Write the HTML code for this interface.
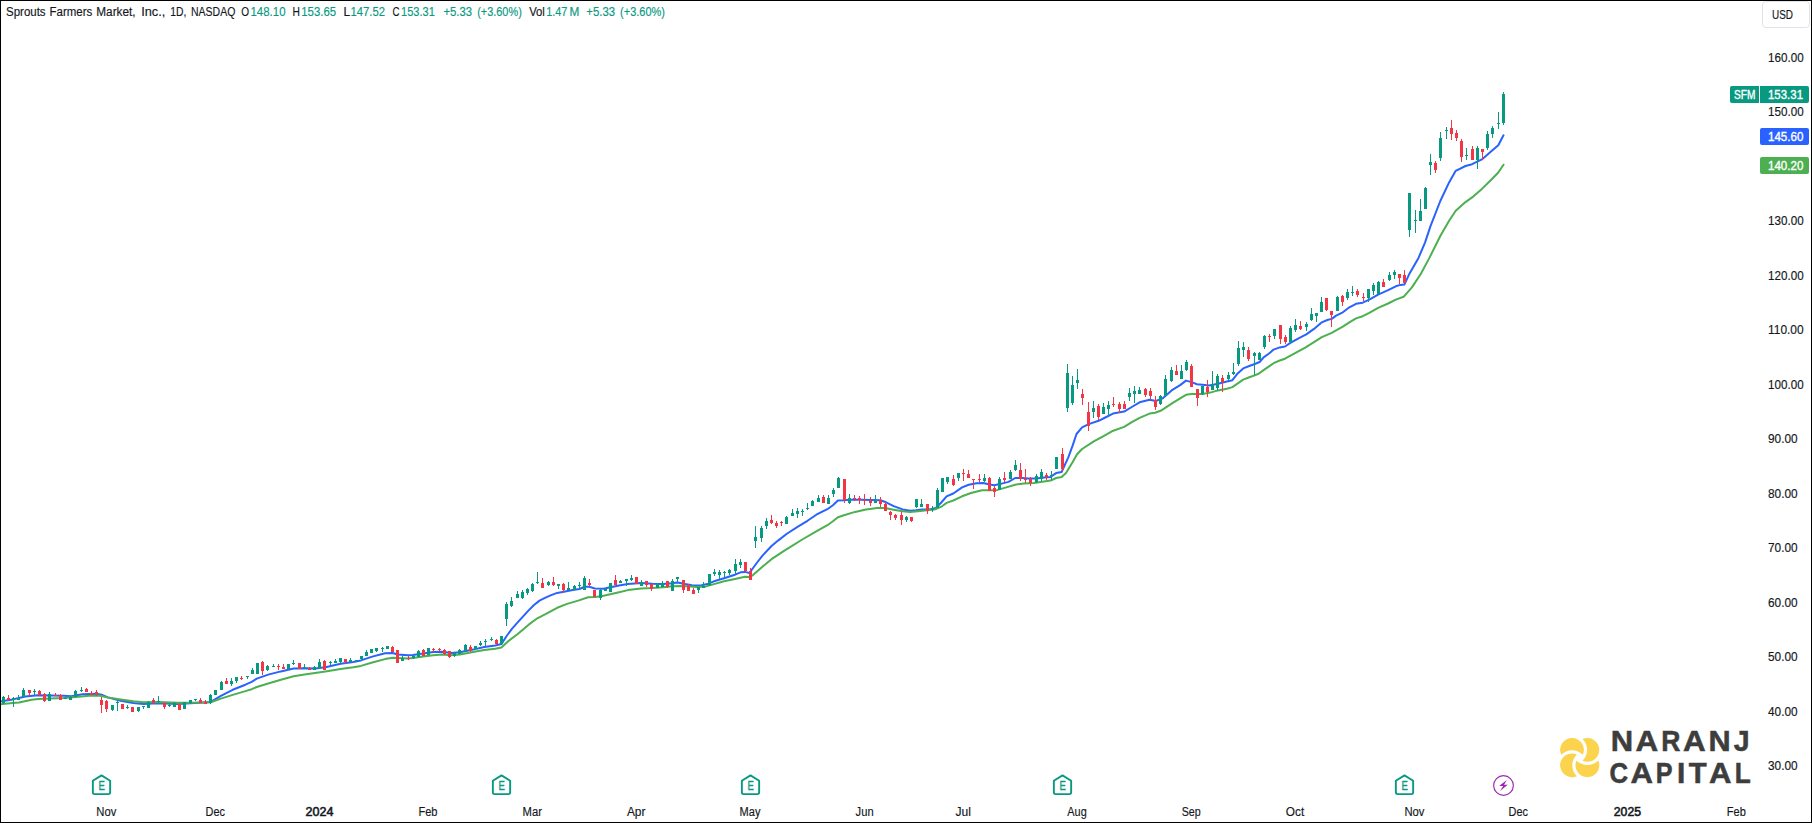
<!DOCTYPE html>
<html lang="en"><head><meta charset="utf-8"><title>SFM chart</title>
<style>html,body{margin:0;padding:0;background:#fff;overflow:hidden}svg{display:block}text{font-family:"Liberation Sans",sans-serif;font-size:12px;fill:#131722;stroke:#131722;stroke-width:0.15px}.t{fill:#089981;stroke:#089981}.w{fill:#fff;stroke:#fff;stroke-width:0.35px}.b{stroke-width:0.55px}</style></head><body>
<svg width="1812" height="823" viewBox="0 0 1812 823">
<rect width="1812" height="823" fill="#fff"/>
<path d="M0.0 701.4L12.7 699.4L25.4 696.5L38.1 695.2L50.8 695.5L63.5 695.8L71.1 696.2L82.5 694.3L96.5 693.7L101.5 694.8L107.9 697.4L120.6 700.7L133.3 703.1L143.4 704.1L152.3 703.5L165.0 703.5L177.7 704.1L190.4 703.2L203.1 702.5L210.7 701.9L220.9 695.8L232.7 689.8L245.4 684.7L251.7 681.9L256.8 678.6L268.2 674.6L280.9 671.4L293.6 668.6L306.3 668.2L315.2 668.5L325.4 667.2L340.6 663.8L353.3 661.9L360.9 660.4L372.3 656.6L385.0 653.3L392.6 653.0L397.7 654.5L407.9 655.3L412.9 654.9L423.1 653.6L433.2 652.0L442.1 651.7L451.1 653.1L459.9 652.2L473.2 649.6L484.2 647.0L495.3 645.4L501.4 644.1L506.3 636.5L511.9 628.8L517.4 622.7L522.9 616.6L528.4 610.6L534.0 605.0L539.5 600.6L545.0 597.9L550.6 595.4L557.2 592.9L563.8 591.8L572.7 590.1L579.3 589.0L584.8 586.8L589.3 586.8L594.8 588.5L603.6 588.8L610.3 587.3L619.1 585.5L627.9 584.0L641.1 583.0L652.1 583.8L663.2 584.1L672.0 583.3L677.5 582.4L685.3 584.1L691.9 585.2L700.8 585.5L707.4 584.1L714.0 581.3L724.0 578.2L735.0 574.7L740.6 572.3L745.0 571.9L749.4 573.0L757.1 562.5L762.7 555.4L771.5 546.0L778.7 540.1L786.5 534.0L797.5 526.9L807.5 520.8L816.3 514.7L827.4 509.2L832.9 505.3L837.9 500.6L844.0 500.3L849.5 499.8L860.6 499.8L871.6 500.1L880.5 500.3L886.0 502.3L893.7 506.1L902.6 509.4L910.3 510.8L915.8 510.3L922.5 509.4L929.1 509.4L935.7 508.1L941.3 502.5L946.6 496.3L953.3 493.5L962.1 487.4L968.7 484.7L976.5 483.2L983.1 483.0L988.6 484.3L994.2 485.2L999.7 484.1L1008.5 481.9L1015.2 478.0L1021.8 478.0L1028.4 478.6L1036.2 478.4L1043.9 477.5L1050.6 476.9L1056.1 473.1L1061.6 472.0L1068.2 457.6L1072.7 445.4L1076.5 434.0L1082.1 427.4L1088.7 424.1L1098.6 420.8L1105.3 417.5L1113.0 413.6L1124.1 411.6L1131.8 407.0L1139.6 402.3L1149.5 399.8L1156.1 400.9L1162.8 398.3L1171.6 390.4L1180.5 384.9L1186.0 380.6L1191.5 382.1L1197.0 384.3L1204.8 384.9L1209.2 385.4L1218.0 383.7L1226.9 381.5L1232.4 380.2L1237.1 374.1L1243.2 368.4L1249.3 366.0L1255.4 363.7L1259.6 362.0L1263.9 357.1L1268.7 353.8L1273.6 349.6L1279.7 347.4L1285.0 346.5L1290.8 342.7L1298.5 338.3L1306.3 334.4L1314.0 328.9L1321.8 322.3L1327.3 320.0L1331.7 318.9L1336.1 315.6L1342.8 312.3L1349.4 307.3L1356.0 303.8L1362.7 302.7L1369.3 299.6L1378.1 294.6L1388.1 290.2L1395.8 286.3L1400.3 284.9L1404.5 284.4L1409.7 273.2L1418.5 257.9L1425.0 242.6L1430.5 226.1L1440.3 201.0L1449.1 182.4L1455.7 170.8L1465.5 166.0L1472.1 164.2L1481.9 159.4L1490.7 151.7L1498.3 145.2L1503.5 135.3" fill="none" stroke="#2962FF" stroke-width="2" stroke-linejoin="round" stroke-linecap="round"/>
<path d="M0.0 704.2L12.7 703.1L19.0 702.5L31.7 699.7L38.1 699.0L50.8 698.6L63.5 698.1L76.2 696.9L88.9 695.8L99.0 695.6L107.9 697.4L120.6 699.4L133.3 701.2L143.4 702.2L158.7 701.9L177.7 702.8L190.4 702.8L203.1 702.5L210.7 702.2L220.9 698.6L232.7 694.9L245.4 691.1L251.7 689.2L256.8 687.0L268.2 683.5L280.9 679.7L293.6 676.2L306.3 674.3L325.4 671.4L340.6 668.9L353.3 667.2L360.9 665.9L372.3 662.5L385.0 659.1L392.6 657.8L397.7 658.1L407.9 658.5L412.9 658.1L423.1 656.6L433.2 655.3L442.1 654.5L451.1 655.3L459.9 654.5L473.2 652.0L484.2 650.1L495.3 648.7L501.4 647.4L508.5 641.0L517.4 634.3L528.4 624.9L537.3 618.3L545.0 614.4L557.2 607.8L567.1 603.9L578.2 600.6L588.1 597.3L594.8 597.0L601.4 596.2L610.3 594.3L619.1 592.3L627.9 590.1L641.1 588.5L652.1 588.0L663.2 587.2L672.0 586.3L679.8 586.0L687.5 586.3L696.3 586.9L705.2 586.6L714.0 584.1L724.0 581.3L735.0 578.9L745.0 576.7L749.4 576.9L752.7 575.3L762.7 566.4L771.5 559.2L784.8 550.4L803.1 539.0L816.3 531.3L827.4 525.2L832.9 521.3L837.9 517.2L844.0 515.3L855.0 511.9L866.1 509.4L877.1 508.1L884.9 508.1L893.7 509.7L902.6 511.2L910.3 511.9L918.0 511.2L926.9 510.3L935.7 509.2L941.3 506.7L946.6 502.9L953.3 500.5L962.1 496.3L971.0 493.0L982.0 490.2L989.8 490.2L997.5 489.9L1006.3 487.4L1015.2 484.7L1024.0 483.6L1034.0 483.0L1043.9 481.4L1050.6 480.6L1056.1 478.0L1061.6 476.9L1066.0 473.1L1072.7 462.0L1077.1 454.3L1082.1 449.0L1094.2 441.2L1103.1 436.3L1111.9 431.3L1124.1 426.9L1131.8 422.2L1139.6 417.8L1149.5 413.6L1155.0 412.7L1160.6 410.8L1171.6 403.6L1180.5 398.1L1186.0 394.8L1191.5 393.9L1202.6 393.9L1210.3 392.6L1218.0 390.4L1226.9 388.7L1232.4 387.1L1237.1 383.9L1243.2 379.6L1249.3 377.2L1255.4 375.1L1259.0 373.5L1263.9 369.9L1268.7 366.6L1273.6 363.2L1279.7 360.5L1285.0 358.7L1305.2 347.7L1314.0 342.2L1321.8 337.2L1331.7 332.8L1342.8 326.7L1349.4 322.3L1356.0 318.4L1362.7 316.2L1369.3 312.9L1378.1 307.9L1388.1 303.5L1395.8 299.6L1403.6 296.8L1411.9 287.4L1420.6 274.3L1429.4 257.9L1440.3 236.0L1449.1 220.7L1455.7 210.8L1465.5 202.1L1473.2 196.6L1481.9 188.9L1490.7 180.2L1498.3 172.5L1503.5 164.7" fill="none" stroke="#4CAF50" stroke-width="2" stroke-linejoin="round" stroke-linecap="round"/>
<path d="M3 696h1v8h-1zM2 697h3v6h-3zM13 697h1v10h-1zM12 698h3v2h-3zM18 695h1v5h-1zM17 698h3v2h-3zM23 688h1v9h-1zM22 690h3v7h-3zM34 689h1v6h-1zM33 691h3v1h-3zM49 692h1v9h-1zM48 694h3v7h-3zM65 697h1v2h-1zM64 698h3v1h-3zM70 696h1v4h-1zM69 697h3v3h-3zM75 690h1v7h-1zM74 691h3v6h-3zM81 687h1v5h-1zM80 690h3v1h-3zM112 705h1v6h-1zM111 705h3v5h-3zM117 701h1v10h-1zM116 702h3v1h-3zM127 705h1v4h-1zM126 707h3v1h-3zM138 707h1v5h-1zM137 707h3v4h-3zM143 706h1v3h-1zM142 706h3v1h-3zM148 701h1v7h-1zM147 702h3v6h-3zM158 696h1v7h-1zM157 701h3v1h-3zM169 704h1v3h-1zM168 705h3v1h-3zM174 702h1v5h-1zM173 703h3v4h-3zM184 702h1v7h-1zM183 702h3v7h-3zM190 700h1v4h-1zM189 700h3v3h-3zM195 699h1v2h-1zM194 699h3v1h-3zM210 694h1v10h-1zM209 695h3v8h-3zM215 690h1v5h-1zM214 690h3v5h-3zM221 681h1v9h-1zM220 682h3v8h-3zM231 678h1v8h-1zM230 681h3v3h-3zM236 677h1v6h-1zM235 677h3v4h-3zM247 676h1v3h-1zM246 676h3v1h-3zM252 668h1v6h-1zM251 670h3v4h-3zM257 663h1v11h-1zM256 663h3v11h-3zM267 665h1v6h-1zM266 666h3v4h-3zM273 664h1v3h-1zM272 666h3v1h-3zM288 664h1v5h-1zM287 664h3v5h-3zM293 660h1v5h-1zM292 663h3v1h-3zM304 664h1v5h-1zM303 667h3v1h-3zM314 666h1v4h-1zM313 667h3v3h-3zM319 659h1v10h-1zM318 662h3v6h-3zM330 661h1v4h-1zM329 662h3v1h-3zM335 659h1v4h-1zM334 661h3v2h-3zM340 658h1v6h-1zM339 658h3v4h-3zM350 658h1v4h-1zM349 660h3v2h-3zM356 660h1v2h-1zM355 660h3v1h-3zM361 656h1v4h-1zM360 656h3v3h-3zM366 650h1v6h-1zM365 652h3v4h-3zM371 649h1v4h-1zM370 649h3v4h-3zM376 648h1v4h-1zM375 648h3v3h-3zM382 647h1v5h-1zM381 648h3v1h-3zM387 646h1v3h-1zM386 646h3v3h-3zM402 656h1v5h-1zM401 658h3v3h-3zM413 655h1v4h-1zM412 656h3v2h-3zM418 650h1v7h-1zM417 651h3v6h-3zM428 648h1v7h-1zM427 648h3v7h-3zM454 652h1v5h-1zM453 653h3v3h-3zM459 649h1v5h-1zM458 650h3v4h-3zM465 644h1v7h-1zM464 645h3v6h-3zM475 646h1v4h-1zM474 646h3v3h-3zM480 641h1v5h-1zM479 643h3v2h-3zM485 639h1v7h-1zM484 641h3v1h-3zM491 637h1v4h-1zM490 639h3v1h-3zM501 636h1v8h-1zM500 636h3v8h-3zM506 602h1v24h-1zM505 604h3v15h-3zM511 597h1v10h-1zM510 601h3v5h-3zM517 591h1v7h-1zM516 594h3v4h-3zM522 590h1v9h-1zM521 592h3v6h-3zM527 588h1v7h-1zM526 589h3v4h-3zM532 583h1v9h-1zM531 584h3v7h-3zM537 572h1v12h-1zM536 582h3v1h-3zM548 581h1v5h-1zM547 582h3v3h-3zM558 584h1v5h-1zM557 584h3v2h-3zM568 582h1v8h-1zM567 588h3v2h-3zM574 585h1v5h-1zM573 586h3v4h-3zM579 582h1v7h-1zM578 585h3v1h-3zM584 576h1v14h-1zM583 578h3v12h-3zM600 589h1v11h-1zM599 590h3v8h-3zM605 588h1v3h-1zM604 589h3v2h-3zM610 583h1v9h-1zM609 583h3v9h-3zM620 580h1v3h-1zM619 581h3v2h-3zM626 579h1v7h-1zM625 579h3v2h-3zM631 575h1v6h-1zM630 578h3v2h-3zM641 580h1v6h-1zM640 582h3v4h-3zM657 583h1v5h-1zM656 584h3v4h-3zM662 581h1v6h-1zM661 583h3v4h-3zM672 579h1v12h-1zM671 581h3v10h-3zM677 577h1v5h-1zM676 577h3v2h-3zM698 587h1v6h-1zM697 587h3v3h-3zM703 582h1v6h-1zM702 586h3v2h-3zM709 574h1v12h-1zM708 574h3v11h-3zM714 569h1v7h-1zM713 572h3v2h-3zM719 570h1v9h-1zM718 572h3v3h-3zM724 571h1v6h-1zM723 572h3v1h-3zM729 569h1v6h-1zM728 570h3v3h-3zM735 559h1v15h-1zM734 564h3v7h-3zM740 559h1v9h-1zM739 562h3v3h-3zM755 526h1v22h-1zM754 537h3v4h-3zM761 526h1v16h-1zM760 528h3v10h-3zM766 518h1v11h-1zM765 521h3v5h-3zM786 516h1v8h-1zM785 517h3v7h-3zM792 509h1v7h-1zM791 513h3v3h-3zM797 508h1v10h-1zM796 511h3v3h-3zM802 509h1v7h-1zM801 511h3v1h-3zM807 503h1v7h-1zM806 508h3v1h-3zM812 500h1v6h-1zM811 501h3v5h-3zM818 495h1v7h-1zM817 498h3v4h-3zM828 495h1v9h-1zM827 498h3v6h-3zM833 488h1v9h-1zM832 490h3v4h-3zM838 477h1v11h-1zM837 478h3v10h-3zM849 494h1v10h-1zM848 498h3v5h-3zM875 495h1v8h-1zM874 500h3v3h-3zM906 516h1v6h-1zM905 517h3v3h-3zM916 499h1v9h-1zM915 499h3v8h-3zM921 499h1v8h-1zM920 504h3v3h-3zM932 506h1v6h-1zM931 508h3v2h-3zM937 488h1v20h-1zM936 490h3v18h-3zM942 478h1v14h-1zM941 478h3v14h-3zM947 477h1v7h-1zM946 477h3v5h-3zM958 473h1v8h-1zM957 473h3v5h-3zM984 474h1v8h-1zM983 478h3v3h-3zM999 477h1v13h-1zM998 479h3v11h-3zM1010 470h1v9h-1zM1009 472h3v7h-3zM1015 460h1v11h-1zM1014 465h3v5h-3zM1036 474h1v9h-1zM1035 476h3v6h-3zM1041 469h1v12h-1zM1040 472h3v7h-3zM1051 471h1v9h-1zM1050 475h3v1h-3zM1056 457h1v12h-1zM1055 457h3v12h-3zM1067 364h1v48h-1zM1066 373h3v35h-3zM1072 376h1v29h-1zM1071 385h3v18h-3zM1077 369h1v20h-1zM1076 380h3v3h-3zM1093 401h1v17h-1zM1092 408h3v4h-3zM1103 403h1v11h-1zM1102 407h3v7h-3zM1108 401h1v15h-1zM1107 405h3v4h-3zM1129 388h1v13h-1zM1128 393h3v4h-3zM1134 386h1v17h-1zM1133 391h3v3h-3zM1139 387h1v7h-1zM1138 390h3v4h-3zM1160 395h1v10h-1zM1159 396h3v8h-3zM1165 375h1v21h-1zM1164 379h3v17h-3zM1171 367h1v15h-1zM1170 370h3v11h-3zM1181 365h1v14h-1zM1180 371h3v8h-3zM1186 360h1v11h-1zM1185 362h3v8h-3zM1202 386h1v9h-1zM1201 386h3v8h-3zM1212 371h1v19h-1zM1211 384h3v6h-3zM1217 374h1v17h-1zM1216 376h3v12h-3zM1228 372h1v9h-1zM1227 375h3v4h-3zM1233 363h1v12h-1zM1232 372h3v2h-3zM1238 341h1v25h-1zM1237 348h3v16h-3zM1243 342h1v15h-1zM1242 347h3v3h-3zM1254 352h1v23h-1zM1253 353h3v3h-3zM1259 352h1v8h-1zM1258 353h3v7h-3zM1264 335h1v14h-1zM1263 336h3v11h-3zM1274 329h1v10h-1zM1273 329h3v7h-3zM1290 326h1v18h-1zM1289 328h3v14h-3zM1295 319h1v13h-1zM1294 325h3v5h-3zM1306 322h1v9h-1zM1305 324h3v3h-3zM1311 308h1v13h-1zM1310 314h3v6h-3zM1316 313h1v9h-1zM1315 313h3v3h-3zM1321 297h1v15h-1zM1320 302h3v10h-3zM1337 296h1v15h-1zM1336 297h3v14h-3zM1347 289h1v11h-1zM1346 292h3v6h-3zM1352 286h1v10h-1zM1351 292h3v1h-3zM1368 289h1v13h-1zM1367 289h3v9h-3zM1373 283h1v12h-1zM1372 285h3v6h-3zM1378 281h1v13h-1zM1377 282h3v12h-3zM1389 272h1v9h-1zM1388 275h3v5h-3zM1394 270h1v9h-1zM1393 272h3v3h-3zM1409 193h1v44h-1zM1408 193h3v37h-3zM1415 210h1v23h-1zM1414 220h3v1h-3zM1420 199h1v22h-1zM1419 211h3v10h-3zM1425 187h1v22h-1zM1424 188h3v21h-3zM1430 154h1v21h-1zM1429 162h3v3h-3zM1440 132h1v29h-1zM1439 138h3v20h-3zM1446 127h1v12h-1zM1445 130h3v1h-3zM1466 148h1v12h-1zM1465 155h3v1h-3zM1477 146h1v23h-1zM1476 148h3v12h-3zM1487 131h1v19h-1zM1486 134h3v14h-3zM1492 126h1v12h-1zM1491 128h3v6h-3zM1498 112h1v17h-1zM1497 123h3v1h-3zM1503 92h1v33h-1zM1502 94h3v29h-3z" fill="#089981" shape-rendering="crispEdges"/>
<path d="M8 695h1v5h-1zM7 698h3v2h-3zM29 690h1v6h-1zM28 690h3v3h-3zM39 690h1v6h-1zM38 691h3v4h-3zM44 693h1v9h-1zM43 694h3v7h-3zM55 693h1v3h-1zM54 695h3v1h-3zM60 694h1v6h-1zM59 695h3v5h-3zM86 688h1v4h-1zM85 689h3v3h-3zM91 691h1v4h-1zM90 693h3v2h-3zM96 690h1v6h-1zM95 692h3v2h-3zM101 697h1v16h-1zM100 700h3v5h-3zM106 700h1v12h-1zM105 701h3v8h-3zM122 704h1v5h-1zM121 704h3v5h-3zM132 707h1v5h-1zM131 707h3v5h-3zM153 698h1v5h-1zM152 700h3v3h-3zM164 702h1v7h-1zM163 703h3v4h-3zM179 704h1v6h-1zM178 704h3v6h-3zM200 698h1v5h-1zM199 700h3v3h-3zM205 700h1v4h-1zM204 702h3v2h-3zM226 678h1v6h-1zM225 681h3v3h-3zM241 676h1v4h-1zM240 678h3v1h-3zM262 661h1v14h-1zM261 662h3v9h-3zM278 664h1v6h-1zM277 666h3v1h-3zM283 664h1v5h-1zM282 667h3v2h-3zM299 663h1v6h-1zM298 663h3v6h-3zM309 667h1v3h-1zM308 668h3v2h-3zM324 660h1v10h-1zM323 661h3v9h-3zM345 659h1v5h-1zM344 659h3v3h-3zM392 646h1v6h-1zM391 647h3v5h-3zM397 650h1v13h-1zM396 650h3v13h-3zM408 656h1v4h-1zM407 658h3v1h-3zM423 649h1v7h-1zM422 650h3v6h-3zM433 648h1v4h-1zM432 649h3v1h-3zM439 648h1v3h-1zM438 649h3v1h-3zM444 649h1v6h-1zM443 650h3v4h-3zM449 651h1v7h-1zM448 651h3v6h-3zM470 645h1v7h-1zM469 647h3v4h-3zM496 639h1v6h-1zM495 640h3v4h-3zM542 578h1v10h-1zM541 583h3v5h-3zM553 577h1v9h-1zM552 582h3v3h-3zM563 583h1v10h-1zM562 584h3v6h-3zM589 579h1v7h-1zM588 583h3v2h-3zM594 590h1v7h-1zM593 590h3v7h-3zM615 575h1v10h-1zM614 580h3v5h-3zM636 577h1v7h-1zM635 577h3v7h-3zM646 581h1v6h-1zM645 581h3v4h-3zM651 584h1v7h-1zM650 584h3v5h-3zM667 581h1v7h-1zM666 581h3v6h-3zM683 580h1v13h-1zM682 580h3v10h-3zM688 584h1v7h-1zM687 585h3v6h-3zM693 588h1v6h-1zM692 590h3v4h-3zM745 562h1v9h-1zM744 562h3v9h-3zM750 568h1v12h-1zM749 571h3v9h-3zM771 515h1v9h-1zM770 520h3v3h-3zM776 521h1v7h-1zM775 523h3v3h-3zM781 521h1v5h-1zM780 522h3v1h-3zM823 495h1v8h-1zM822 497h3v6h-3zM844 479h1v24h-1zM843 479h3v21h-3zM854 495h1v6h-1zM853 498h3v1h-3zM859 496h1v8h-1zM858 498h3v2h-3zM864 494h1v11h-1zM863 500h3v1h-3zM870 497h1v9h-1zM869 501h3v2h-3zM880 497h1v10h-1zM879 500h3v4h-3zM885 502h1v9h-1zM884 504h3v7h-3zM890 511h1v9h-1zM889 512h3v3h-3zM895 514h1v6h-1zM894 515h3v3h-3zM901 512h1v13h-1zM900 515h3v5h-3zM911 517h1v5h-1zM910 517h3v4h-3zM927 504h1v10h-1zM926 504h3v7h-3zM953 475h1v11h-1zM952 479h3v6h-3zM963 469h1v12h-1zM962 473h3v1h-3zM968 470h1v8h-1zM967 474h3v4h-3zM973 479h1v10h-1zM972 479h3v1h-3zM979 474h1v8h-1zM978 479h3v1h-3zM989 477h1v14h-1zM988 478h3v13h-3zM994 486h1v11h-1zM993 488h3v4h-3zM1004 472h1v10h-1zM1003 478h3v2h-3zM1020 463h1v18h-1zM1019 470h3v9h-3zM1025 469h1v14h-1zM1024 479h3v1h-3zM1030 477h1v9h-1zM1029 479h3v4h-3zM1046 473h1v7h-1zM1045 475h3v2h-3zM1062 448h1v23h-1zM1061 454h3v15h-3zM1082 389h1v16h-1zM1081 394h3v4h-3zM1088 402h1v29h-1zM1087 412h3v14h-3zM1098 404h1v16h-1zM1097 406h3v11h-3zM1113 397h1v10h-1zM1112 404h3v1h-3zM1119 402h1v11h-1zM1118 404h3v5h-3zM1124 401h1v8h-1zM1123 404h3v5h-3zM1145 388h1v9h-1zM1144 389h3v6h-3zM1150 388h1v11h-1zM1149 391h3v5h-3zM1155 396h1v14h-1zM1154 400h3v7h-3zM1176 365h1v10h-1zM1175 371h3v4h-3zM1191 364h1v23h-1zM1190 366h3v21h-3zM1197 389h1v17h-1zM1196 389h3v9h-3zM1207 380h1v17h-1zM1206 387h3v5h-3zM1222 375h1v17h-1zM1221 378h3v4h-3zM1248 347h1v14h-1zM1247 350h3v9h-3zM1269 334h1v8h-1zM1268 336h3v1h-3zM1280 325h1v19h-1zM1279 325h3v14h-3zM1285 335h1v9h-1zM1284 337h3v5h-3zM1300 321h1v9h-1zM1299 326h3v3h-3zM1326 298h1v13h-1zM1325 298h3v12h-3zM1331 311h1v16h-1zM1330 311h3v4h-3zM1342 295h1v11h-1zM1341 296h3v6h-3zM1357 289h1v8h-1zM1356 291h3v4h-3zM1363 293h1v8h-1zM1362 297h3v1h-3zM1383 279h1v8h-1zM1382 282h3v5h-3zM1399 274h1v10h-1zM1398 274h3v4h-3zM1404 270h1v13h-1zM1403 275h3v8h-3zM1435 161h1v12h-1zM1434 163h3v7h-3zM1451 120h1v20h-1zM1450 128h3v6h-3zM1456 130h1v11h-1zM1455 133h3v5h-3zM1461 139h1v23h-1zM1460 141h3v16h-3zM1472 146h1v14h-1zM1471 149h3v11h-3zM1482 149h1v11h-1zM1481 149h3v3h-3z" fill="#F23645" shape-rendering="crispEdges"/>
<text y="16"><tspan x="6.0" textLength="39.6" lengthAdjust="spacingAndGlyphs">Sprouts</tspan> <tspan x="49.5" textLength="42.7" lengthAdjust="spacingAndGlyphs">Farmers</tspan> <tspan x="96.3" textLength="39.3" lengthAdjust="spacingAndGlyphs">Market,</tspan> <tspan x="141.2" textLength="24.2" lengthAdjust="spacingAndGlyphs">Inc.,</tspan> <tspan x="170.3" textLength="16.1" lengthAdjust="spacingAndGlyphs">1D,</tspan> <tspan x="191.0" textLength="44.3" lengthAdjust="spacingAndGlyphs">NASDAQ</tspan> <tspan x="241.2" textLength="7.8" lengthAdjust="spacingAndGlyphs">O</tspan> <tspan x="250.5" textLength="35.0" lengthAdjust="spacingAndGlyphs" class="t">148.10</tspan> <tspan x="292.6" textLength="7.4" lengthAdjust="spacingAndGlyphs">H</tspan> <tspan x="301.3" textLength="34.8" lengthAdjust="spacingAndGlyphs" class="t">153.65</tspan> <tspan x="343.6" textLength="6.2" lengthAdjust="spacingAndGlyphs">L</tspan> <tspan x="350.4" textLength="34.6" lengthAdjust="spacingAndGlyphs" class="t">147.52</tspan> <tspan x="392.6" textLength="7.0" lengthAdjust="spacingAndGlyphs">C</tspan> <tspan x="401.1" textLength="33.7" lengthAdjust="spacingAndGlyphs" class="t">153.31</tspan> <tspan x="443.4" textLength="28.7" lengthAdjust="spacingAndGlyphs" class="t">+5.33</tspan> <tspan x="477.2" textLength="44.6" lengthAdjust="spacingAndGlyphs" class="t">(+3.60%)</tspan> <tspan x="529.2" textLength="15.7" lengthAdjust="spacingAndGlyphs">Vol</tspan> <tspan x="546.3" textLength="21.1" lengthAdjust="spacingAndGlyphs" class="t">1.47</tspan> <tspan x="569.6" textLength="9.8" lengthAdjust="spacingAndGlyphs" class="t">M</tspan> <tspan x="586.3" textLength="28.8" lengthAdjust="spacingAndGlyphs" class="t">+5.33</tspan> <tspan x="620.1" textLength="44.8" lengthAdjust="spacingAndGlyphs" class="t">(+3.60%)</tspan></text>
<rect x="1762.5" y="1.5" width="47" height="26" rx="3.5" fill="#fff" stroke="#e0e3eb"/>
<text x="1772" y="19" textLength="21" lengthAdjust="spacingAndGlyphs">USD</text>
<text x="1768" y="61.6" textLength="35.6" lengthAdjust="spacingAndGlyphs">160.00</text>
<text x="1768" y="116.1" textLength="35.6" lengthAdjust="spacingAndGlyphs">150.00</text>
<text x="1768" y="225.1" textLength="35.6" lengthAdjust="spacingAndGlyphs">130.00</text>
<text x="1768" y="279.6" textLength="35.6" lengthAdjust="spacingAndGlyphs">120.00</text>
<text x="1768" y="334.1" textLength="35.6" lengthAdjust="spacingAndGlyphs">110.00</text>
<text x="1768" y="388.6" textLength="35.6" lengthAdjust="spacingAndGlyphs">100.00</text>
<text x="1768" y="443.1" textLength="29.6" lengthAdjust="spacingAndGlyphs">90.00</text>
<text x="1768" y="497.6" textLength="29.6" lengthAdjust="spacingAndGlyphs">80.00</text>
<text x="1768" y="552.1" textLength="29.6" lengthAdjust="spacingAndGlyphs">70.00</text>
<text x="1768" y="606.6" textLength="29.6" lengthAdjust="spacingAndGlyphs">60.00</text>
<text x="1768" y="661.1" textLength="29.6" lengthAdjust="spacingAndGlyphs">50.00</text>
<text x="1768" y="715.6" textLength="29.6" lengthAdjust="spacingAndGlyphs">40.00</text>
<text x="1768" y="770.1" textLength="29.6" lengthAdjust="spacingAndGlyphs">30.00</text>
<path d="M1732 86h27v17h-27a2 2 0 0 1-2-2v-13a2 2 0 0 1 2-2z" fill="#089981"/>
<path d="M1760 86h47a2 2 0 0 1 2 2v13a2 2 0 0 1-2 2h-47z" fill="#089981"/>
<text x="1734" y="99" textLength="21.4" lengthAdjust="spacingAndGlyphs" class="w">SFM</text>
<text x="1768" y="99" textLength="35" lengthAdjust="spacingAndGlyphs" class="w">153.31</text>
<rect x="1760" y="128" width="49" height="17" rx="2" fill="#2962FF"/>
<text x="1768" y="141" textLength="35.4" lengthAdjust="spacingAndGlyphs" class="w">145.60</text>
<rect x="1760" y="157" width="49" height="17" rx="2" fill="#4CAF50"/>
<text x="1768" y="170" textLength="35.4" lengthAdjust="spacingAndGlyphs" class="w">140.20</text>
<text x="96.3" y="816" textLength="20" lengthAdjust="spacingAndGlyphs">Nov</text>
<text x="205.6" y="816" textLength="19.4" lengthAdjust="spacingAndGlyphs">Dec</text>
<text x="305.6" y="816" textLength="27.8" lengthAdjust="spacingAndGlyphs" class="b">2024</text>
<text x="418.5" y="816" textLength="19" lengthAdjust="spacingAndGlyphs">Feb</text>
<text x="522.5" y="816" textLength="19.4" lengthAdjust="spacingAndGlyphs">Mar</text>
<text x="626.9" y="816" textLength="18.6" lengthAdjust="spacingAndGlyphs">Apr</text>
<text x="739.6" y="816" textLength="20.8" lengthAdjust="spacingAndGlyphs">May</text>
<text x="855.6" y="816" textLength="18" lengthAdjust="spacingAndGlyphs">Jun</text>
<text x="955.5" y="816" textLength="15.4" lengthAdjust="spacingAndGlyphs">Jul</text>
<text x="1067.3" y="816" textLength="19.4" lengthAdjust="spacingAndGlyphs">Aug</text>
<text x="1181.7" y="816" textLength="19" lengthAdjust="spacingAndGlyphs">Sep</text>
<text x="1285.8" y="816" textLength="18.4" lengthAdjust="spacingAndGlyphs">Oct</text>
<text x="1404.5" y="816" textLength="20" lengthAdjust="spacingAndGlyphs">Nov</text>
<text x="1508.6" y="816" textLength="19.4" lengthAdjust="spacingAndGlyphs">Dec</text>
<text x="1613.8" y="816" textLength="27.2" lengthAdjust="spacingAndGlyphs" class="b">2025</text>
<text x="1726.8" y="816" textLength="19" lengthAdjust="spacingAndGlyphs">Feb</text>
<g transform="translate(101.5,785)"><path d="M0 -9.6L8.65 -4.3V7.3a1.8 1.8 0 0 1-1.8 1.8H-6.85a1.8 1.8 0 0 1-1.8-1.8V-4.3z" fill="#fff" stroke="#089981" stroke-width="1.9" stroke-linejoin="round"/><text x="-3.0" y="4.9" textLength="6.4" lengthAdjust="spacingAndGlyphs" class="t" style="font-size:12.5px;stroke:#089981;stroke-width:0.3px">E</text></g>
<g transform="translate(501.5,785)"><path d="M0 -9.6L8.65 -4.3V7.3a1.8 1.8 0 0 1-1.8 1.8H-6.85a1.8 1.8 0 0 1-1.8-1.8V-4.3z" fill="#fff" stroke="#089981" stroke-width="1.9" stroke-linejoin="round"/><text x="-3.0" y="4.9" textLength="6.4" lengthAdjust="spacingAndGlyphs" class="t" style="font-size:12.5px;stroke:#089981;stroke-width:0.3px">E</text></g>
<g transform="translate(750.5,785)"><path d="M0 -9.6L8.65 -4.3V7.3a1.8 1.8 0 0 1-1.8 1.8H-6.85a1.8 1.8 0 0 1-1.8-1.8V-4.3z" fill="#fff" stroke="#089981" stroke-width="1.9" stroke-linejoin="round"/><text x="-3.0" y="4.9" textLength="6.4" lengthAdjust="spacingAndGlyphs" class="t" style="font-size:12.5px;stroke:#089981;stroke-width:0.3px">E</text></g>
<g transform="translate(1062.5,785)"><path d="M0 -9.6L8.65 -4.3V7.3a1.8 1.8 0 0 1-1.8 1.8H-6.85a1.8 1.8 0 0 1-1.8-1.8V-4.3z" fill="#fff" stroke="#089981" stroke-width="1.9" stroke-linejoin="round"/><text x="-3.0" y="4.9" textLength="6.4" lengthAdjust="spacingAndGlyphs" class="t" style="font-size:12.5px;stroke:#089981;stroke-width:0.3px">E</text></g>
<g transform="translate(1404.5,785)"><path d="M0 -9.6L8.65 -4.3V7.3a1.8 1.8 0 0 1-1.8 1.8H-6.85a1.8 1.8 0 0 1-1.8-1.8V-4.3z" fill="#fff" stroke="#089981" stroke-width="1.9" stroke-linejoin="round"/><text x="-3.0" y="4.9" textLength="6.4" lengthAdjust="spacingAndGlyphs" class="t" style="font-size:12.5px;stroke:#089981;stroke-width:0.3px">E</text></g>
<g transform="translate(1503.5,785.5)"><circle r="9.85" fill="#fff" stroke="#9C27B0" stroke-width="1.15"/><path d="M3.3 -5.6L-4.4 0.5H-0.3L-3.5 5.4L4.3 -0.7H0.5z" fill="#9C27B0"/></g>
<path d="M1561.15 754.79A11.9 11.9 0 1 1 1582.85 754.79A15.1 15.1 0 0 0 1561.15 754.79zM1582.51 739.05A11.9 11.9 0 1 1 1582.51 760.75A15.1 15.1 0 0 0 1582.51 739.05zM1598.25 760.41A11.9 11.9 0 1 1 1576.55 760.41A15.1 15.1 0 0 0 1598.25 760.41zM1576.89 776.15A11.9 11.9 0 1 1 1576.89 754.45A15.1 15.1 0 0 0 1576.89 776.15z" fill="#FCD34D"/>
<text y="751.1" style="font-weight:bold;font-size:30.10px;fill:#3d3d3d;stroke:#3d3d3d;stroke-width:0.55px"><tspan x="1610.78" textLength="22.39" lengthAdjust="spacingAndGlyphs">N</tspan><tspan x="1635.58" textLength="22.69" lengthAdjust="spacingAndGlyphs">A</tspan><tspan x="1661.37" textLength="19.15" lengthAdjust="spacingAndGlyphs">R</tspan><tspan x="1683.08" textLength="22.69" lengthAdjust="spacingAndGlyphs">A</tspan><tspan x="1708.60" textLength="22.15" lengthAdjust="spacingAndGlyphs">N</tspan><tspan x="1733.70" textLength="15.90" lengthAdjust="spacingAndGlyphs">J</tspan></text>
<text y="783.1" style="font-weight:bold;font-size:30.10px;fill:#3d3d3d;stroke:#3d3d3d;stroke-width:0.55px"><tspan x="1609.59" textLength="18.62" lengthAdjust="spacingAndGlyphs">C</tspan><tspan x="1630.49" textLength="22.47" lengthAdjust="spacingAndGlyphs">A</tspan><tspan x="1655.76" textLength="16.78" lengthAdjust="spacingAndGlyphs">P</tspan><tspan x="1677.06" textLength="8.28" lengthAdjust="spacingAndGlyphs">I</tspan><tspan x="1688.82" textLength="17.93" lengthAdjust="spacingAndGlyphs">T</tspan><tspan x="1709.09" textLength="22.47" lengthAdjust="spacingAndGlyphs">A</tspan><tspan x="1734.70" textLength="15.96" lengthAdjust="spacingAndGlyphs">L</tspan></text>
<rect x="0.5" y="0.5" width="1811" height="822" fill="none" stroke="#000" stroke-width="1"/>
</svg></body></html>
